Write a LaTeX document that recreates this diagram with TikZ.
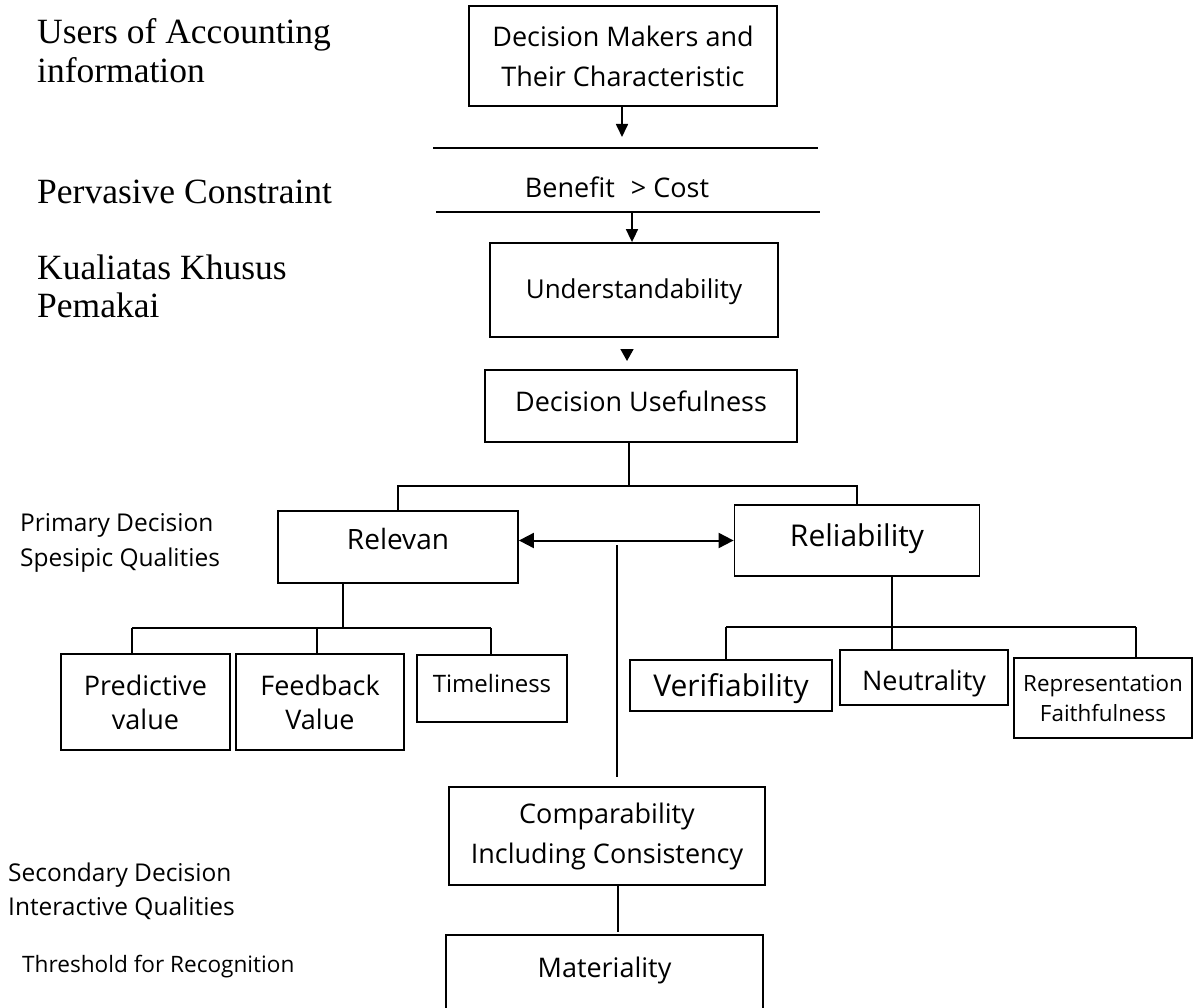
\documentclass[tikz,border=0pt]{standalone}
\usepackage{fontspec}
\setmainfont{Open Sans}
\newfontfamily\labelserif{Liberation Serif}
\usetikzlibrary{arrows.meta,calc}

\begin{document}
\begin{tikzpicture}[x=1pt,y=-1pt,
  box/.style={draw, line width=1.8pt, inner sep=0pt, align=center},
  conn/.style={line width=1.7pt},
  tip/.style={-{Triangle[length=13pt,width=12pt]}},
  big/.style={font=\fontsize{27}{40}\selectfont},
  side/.style={font=\fontsize{24.5}{35}\selectfont, anchor=base west, inner sep=0pt, align=left},
  sideserif/.style={font=\labelserif\fontsize{35.5}{39}\selectfont, anchor=base west, inner sep=0pt, align=left}]
\path[use as bounding box, fill=white] (0,0) rectangle (1194,1008);

% left-hand captions (base anchor sits on the last line)
\node[sideserif] (users) at (37,83) {Users of Accounting\\information};
\node[sideserif] (perv) at (37,204) {Pervasive Constraint};
\node[sideserif] (kual) at (37,318) {Kualiatas Khusus\\Pemakai};
\node[side] (prim) at (20,566) {Primary Decision\\Spesipic Qualities};
\node[side, font=\fontsize{24.5}{34}\selectfont] (sec) at (8,915) {Secondary Decision\\Interactive Qualities};
\node[side, font=\fontsize{22.6}{30}\selectfont] (thr) at (22,972) {Threshold for Recognition};

% top of the hierarchy
\node[box, big, minimum width=308pt, minimum height=100pt] (dm) at (623,56)
  {Decision Makers and\\Their Characteristic};
\coordinate (a1) at (622,137);
\draw[conn, tip] (dm.south -| a1) -- (a1);

\coordinate (l1a) at (433,148); \coordinate (l1b) at (818,148);
\coordinate (l2a) at (436,212); \coordinate (l2b) at (820,212);
\draw[conn] (l1a) -- (l1b);
\draw[conn] (l2a) -- (l2b);
\node[font=\fontsize{27}{30}\selectfont, inner sep=0pt] (bc) at (617,187)
  {Benefit\hspace{16pt}>\hspace{7pt}Cost};

\node[box, font=\fontsize{26}{30}\selectfont, anchor=base, minimum width=288pt,
  text height=56pt, text depth=38pt] (und) at (634,299) {Understandability};
\coordinate (a2) at (632,213);
\draw[conn, tip] (a2) -- (und.north -| a2);

\node[box, big, anchor=base, minimum width=312pt, text height=41pt, text depth=31pt]
  (use) at (641,411) {Decision Usefulness};
\coordinate (a3) at (627,349);
\draw[conn, -{Triangle[length=12pt,width=13pt]}] (a3) -- ++(0,12);

% primary qualities
\node[box, font=\fontsize{28}{34}\selectfont, anchor=base, minimum width=240pt,
  text height=38pt, text depth=34pt] (rel) at (398,549) {Relevan};
\node[box, font=\fontsize{30}{34}\selectfont, anchor=base, minimum width=245pt,
  text height=41pt, text depth=30pt] (reb) at (857,546) {Reliability};
\coordinate (bar) at (629,486);
\draw[conn] (use.south -| bar) -- (bar);
\draw[conn] (rel.north) |- (bar) -| (reb.north);
\draw[line width=2pt, {Triangle[length=15pt,width=15pt]}-{Triangle[length=15pt,width=15pt]}]
  (rel.east |- reb.west) -- (reb.west);

% ingredients of relevance
\node[box, font=\fontsize{27}{34}\selectfont, minimum width=169pt, minimum height=96pt]
  (pred) at (145.5,702) {Predictive\\value};
\node[box, font=\fontsize{27}{34}\selectfont, minimum width=168pt, minimum height=96pt]
  (feed) at (320,702) {Feedback\\Value};
\node[box, font=\fontsize{24}{30}\selectfont, anchor=base, minimum width=150pt,
  text height=37pt, text depth=30pt] (time) at (492,692) {Timeliness};
\coordinate (rj) at (343,628);
\coordinate (p1) at (132,628); \coordinate (p2) at (317,628); \coordinate (p3) at (491,628);
\draw[conn] (rel.south -| rj) -- (rj);
\draw[conn] (p1) -- (p3);
\draw[conn] (p1) -- (pred.north -| p1);
\draw[conn] (p2) -- (feed.north -| p2);
\draw[conn] (p3) -- (time.north -| p3);

% ingredients of reliability
\node[box, font=\fontsize{30}{34}\selectfont, anchor=base, minimum width=202pt,
  text height=36pt, text depth=15pt] (verif) at (731,696) {Verifiability};
\node[box, font=\fontsize{27}{34}\selectfont, anchor=base, minimum width=168pt,
  text height=40pt, text depth=15pt] (neut) at (924,690) {Neutrality};
\node[box, font=\fontsize{22.4}{30}\selectfont, minimum width=178pt, minimum height=80pt]
  (repr) at (1103,698) {Representation\\Faithfulness};
\coordinate (q1) at (726,627); \coordinate (q2) at (892,627); \coordinate (q3) at (1136,627);
\draw[conn] (q1) -- (q3);
\draw[conn] (q1) -- (verif.north -| q1);
\draw[conn] (reb.south -| q2) -- (neut.north -| q2);
\draw[conn] (q3) -- (repr.north -| q3);

% secondary qualities and threshold
\node[box, big, minimum width=316pt, minimum height=98pt] (comp) at (607,836)
  {Comparability\\Including Consistency};
\node[box, big, anchor=base, minimum width=317pt, text height=42pt, text depth=63pt]
  (mat) at (604.5,977) {Materiality};
\coordinate (vtop) at (617,545);
\draw[conn, shorten >=9pt] (vtop) -- (vtop |- comp.north);
\coordinate (cm) at (618,0);
\draw[conn, shorten >=2pt] (comp.south -| cm) -- (mat.north -| cm);
\end{tikzpicture}
\end{document}
